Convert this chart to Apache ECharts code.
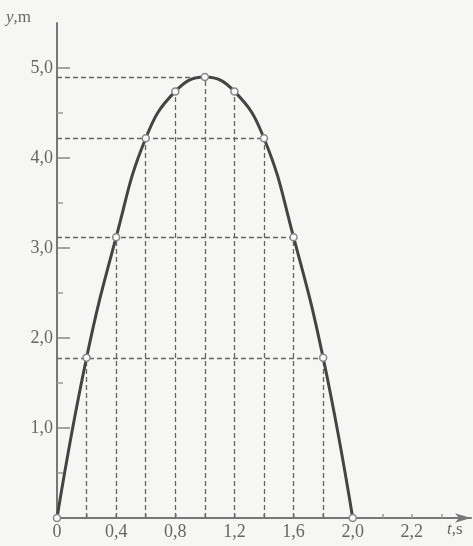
<!DOCTYPE html>
<html><head><meta charset="utf-8">
<script src="https://cdn.jsdelivr.net/npm/echarts@6/dist/echarts.min.js"></script>
<style>html,body{margin:0;padding:0;background:#f6f6f4;}#c{width:473px;height:546px;}</style>
</head><body><div id="c"></div>
<script>
// data
var tValues = [0, 0.2, 0.4, 0.6, 0.8, 1.0, 1.2, 1.4, 1.6, 1.8, 2.0];
var yValues = [0, 1.78, 3.12, 4.22, 4.74, 4.9, 4.74, 4.22, 3.12, 1.78, 0];
var yTickValues = [1, 2, 3, 4, 5];
var yTickTexts = ['1,0', '2,0', '3,0', '4,0', '5,0'];
var yMinorTickValues = [0.5, 1.5, 2.5, 3.5, 4.5];
var xTickValues = [0, 0.4, 0.8, 1.2, 1.6, 2.0, 2.4];
var xTickTexts = ['0', '0,4', '0,8', '1,2', '1,6', '2,0', '2,2'];
var hLineIdx = [5, 7, 8, 9];   // horizontal guides drawn to these points
var vLineIdx = [1, 2, 3, 4, 5, 6, 7, 8, 9];

var font = 'Liberation Serif, DejaVu Serif, serif';
var gray = '#666';

var curve = tValues.map(function (t, i) { return [t, yValues[i]]; });
var guides = [];
vLineIdx.forEach(function (i) {
  guides.push([{ coord: [tValues[i], 0] }, { coord: [tValues[i], yValues[i]] }]);
});
hLineIdx.forEach(function (i) {
  guides.push([{ coord: [0, yValues[i]] }, { coord: [tValues[i], yValues[i]] }]);
});

var gridCfg = { left: 57, right: 2, top: 23, bottom: 28 };
var chart = echarts.init(document.getElementById('c'));
chart.setOption({
  backgroundColor: '#f6f6f4',
  animation: false,
  grid: [gridCfg, gridCfg],
  xAxis: [{
    type: 'value', min: 0, max: 2.8, interval: 0.2, gridIndex: 0,
    axisLine: { onZero: false, lineStyle: { color: '#777', width: 2 }, symbol: ['none', 'arrow'], symbolSize: [7, 16] },
    axisTick: { show: true, inside: true, length: 4, lineStyle: { color: '#999', width: 1.5 } },
    splitLine: { show: false },
    axisLabel: {
      color: gray, fontFamily: font, fontSize: 18, margin: 5,
      showMaxLabel: false,
      formatter: function (v) {
        for (var k = 0; k < xTickValues.length; k++) {
          if (Math.abs(v - xTickValues[k]) < 1e-6) return xTickTexts[k];
        }
        return '';
      }
    }
  }, {
    type: 'value', min: 0, max: 2.8, gridIndex: 1, show: false
  }],
  yAxis: [{
    type: 'value', min: 0, max: 5.5, gridIndex: 0,
    axisLine: { show: true, lineStyle: { color: '#777', width: 2 } },
    axisTick: { show: true, inside: true, length: 13, customValues: yTickValues, lineStyle: { color: '#888', width: 1.5 } },
    splitLine: { show: false },
    axisLabel: {
      color: gray, fontFamily: font, fontSize: 18, margin: 4, verticalAlign: 'middle',
      customValues: yTickValues,
      formatter: function (v) {
        for (var k = 0; k < yTickValues.length; k++) {
          if (Math.abs(v - yTickValues[k]) < 1e-6) return yTickTexts[k];
        }
        return '';
      }
    }
  }, {
    type: 'value', min: 0, max: 5.5, gridIndex: 1,
    axisLine: { show: false },
    axisTick: { show: true, inside: true, length: 6, customValues: yMinorTickValues, lineStyle: { color: '#999', width: 1.5 } },
    axisLabel: { show: false },
    splitLine: { show: false }
  }],
  graphic: [
    { type: 'text', left: 6, top: 9, style: { text: '{i|y},m', fill: gray, font: '17px ' + font,
      rich: { i: { fontStyle: 'italic', fontFamily: font, fontSize: 17, fill: gray } } } },
    { type: 'text', left: 447, top: 521, style: { text: '{i|t},s', fill: gray, font: '17px ' + font,
      rich: { i: { fontStyle: 'italic', fontFamily: font, fontSize: 17, fill: gray } } } }
  ],
  series: [{
    type: 'line',
    xAxisIndex: 0, yAxisIndex: 0,
    data: curve,
    smooth: 0.45,
    symbol: 'circle', symbolSize: 7,
    itemStyle: { color: '#fafafa', borderColor: '#888', borderWidth: 1.5 },
    lineStyle: { color: '#444', width: 3 },
    z: 5,
    markLine: {
      silent: true, symbol: ['none', 'none'], label: { show: false },
      lineStyle: { color: '#666', width: 1.3, type: [5, 3] },
      data: guides,
      z: 2
    }
  }]
});
</script></body></html>
